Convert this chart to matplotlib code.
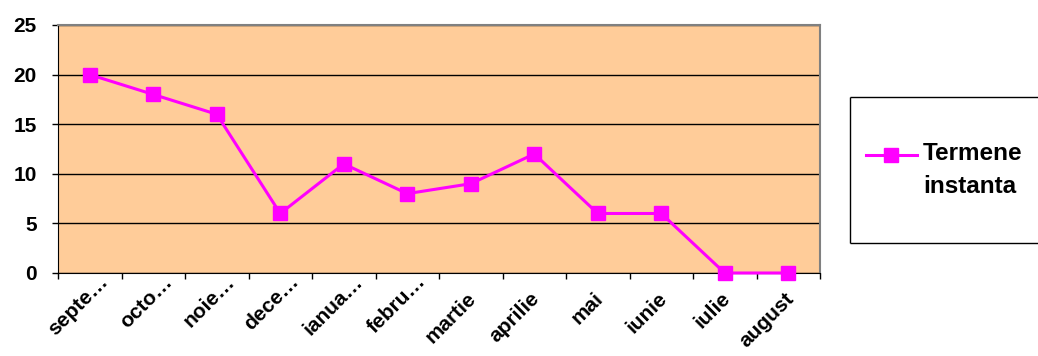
import matplotlib
matplotlib.use("Agg")
import matplotlib.pyplot as plt
from matplotlib.transforms import ScaledTranslation
from matplotlib.legend_handler import HandlerLine2D
from matplotlib.lines import Line2D
import numpy as np

plt.rcParams['font.family'] = ['Liberation Sans', 'DejaVu Sans']
plt.rcParams['font.weight'] = 'bold'

months = ["septe…", "octo…", "noie…", "dece…", "ianua…", "febru…",
          "martie", "aprilie", "mai", "iunie", "iulie", "august"]
values = [20, 18, 16, 6, 11, 8, 9, 12, 6, 6, 0, 0]
series_name = "Termene\ninstanta"
yticks = [0, 5, 10, 15, 20, 25]

W, H, DPI = 1038, 356, 100
fig = plt.figure(figsize=(W / DPI, H / DPI), dpi=DPI)
fig.patch.set_facecolor('white')

left, right, top, bottom = 58, 820, 25, 273
ax = fig.add_axes([left / W, 1 - bottom / H, (right - left) / W, (bottom - top) / H])
ax.set_facecolor('#FFCC99')

x = np.arange(len(months))
line, = ax.plot(x, values, color='#FF00FF', lw=2.2, marker='s', markersize=10,
                markerfacecolor='#FF00FF', markeredgecolor='#FF00FF', zorder=3,
                clip_on=False)

ax.set_xlim(-0.5, len(months) - 0.5)
ax.set_ylim(0, 25)
ax.set_yticks(yticks)
ax.yaxis.grid(True, color='black', lw=1)
ax.set_axisbelow(True)

ax.set_xticks(np.arange(-0.5, len(months), 1.0))
ax.set_xticklabels([])
ax.tick_params(axis='x', direction='out', length=4.3, width=1, color='black')
ax.tick_params(axis='y', direction='out', length=4.3, width=1, color='black',
               labelsize=15, pad=11)
for lab in ax.get_yticklabels():
    lab.set_fontweight('bold')

for side in ['top', 'right']:
    ax.spines[side].set_color('#808080')
    ax.spines[side].set_linewidth(1.5)
ax.spines['left'].set_color('black')
ax.spines['bottom'].set_color('black')

for i, m in enumerate(months):
    if m.endswith('…'):
        dx, dy = 9, -1
    else:
        dx, dy = -4, 16
    off = ScaledTranslation(dx / DPI, -dy / DPI, fig.dpi_scale_trans)
    ax.text(i, 0, m, transform=ax.get_xaxis_transform() + off,
            rotation=45, rotation_mode='anchor', ha='right', va='top',
            fontsize=15, fontweight='bold')

# legend frame: left, top and bottom sides (the right side is beyond the canvas)
lx0, ly0, ly1 = 850 / W, 1 - 97 / H, 1 - 243 / H
for xs, ys in [([lx0, 1.3], [ly0, ly0]), ([lx0, lx0], [ly0, ly1]),
               ([lx0, 1.3], [ly1, ly1])]:
    fig.lines.append(Line2D(xs, ys, transform=fig.transFigure, color='black',
                            lw=1, solid_capstyle='butt'))
leg = fig.legend([line], [series_name], loc='center left',
                 bbox_to_anchor=(844 / W, 1 - 170 / H), frameon=False,
                 prop={'size': 17.5, 'weight': 'bold'}, handlelength=2.1,
                 handletextpad=0.25,
                 handler_map={line: HandlerLine2D(numpoints=1)})
for t in leg.get_texts():
    t.set_linespacing(1.6)
# align the legend key with the first text line, as in the original
for h in leg.legend_handles:
    h.set_transform(h.get_transform() +
                    ScaledTranslation(0, 15 / DPI, fig.dpi_scale_trans))

fig.savefig('out.png', dpi=DPI)
